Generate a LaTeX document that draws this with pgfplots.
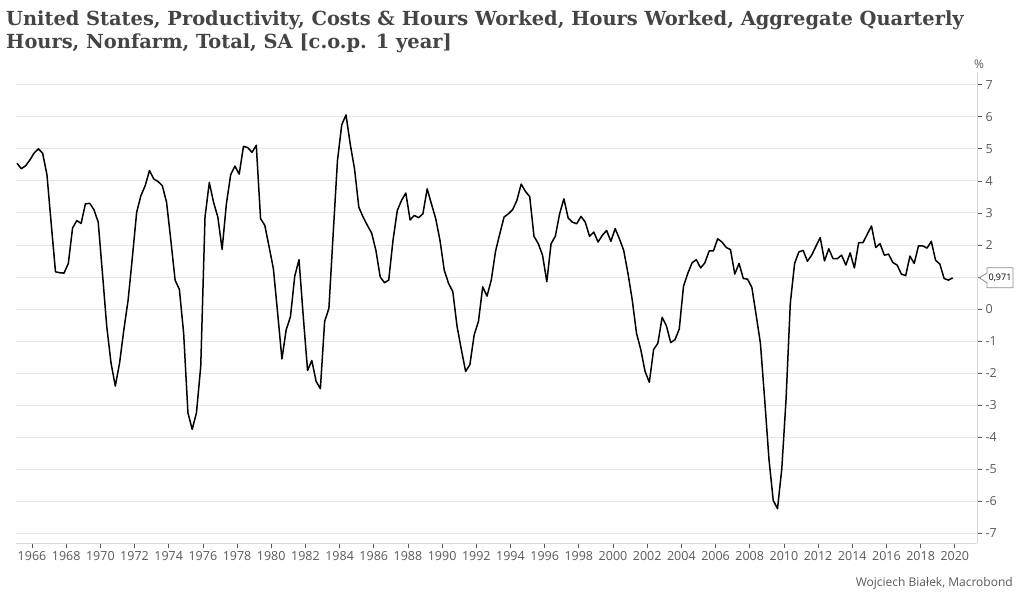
\documentclass[border=0pt]{standalone}
\usepackage{fontspec}
\usepackage{pgfplots}
\usepackage{pgfplotstable}
\pgfplotsset{compat=1.18}
\setmainfont{Open Sans}
\newfontfamily\titlefont{DejaVu Serif}
\definecolor{titlegray}{HTML}{444444}
\definecolor{tickgray}{HTML}{595959}
\definecolor{gridgray}{HTML}{E6E6E6}
\definecolor{axisgray}{HTML}{D9D9D9}

% aggregate hours, nonfarm, % change over 1 year, quarterly (mid-quarter dates)
\pgfplotstableread{
year value
1965.125 4.55
1965.375 4.38
1965.625 4.47
1965.875 4.65
1966.125 4.87
1966.375 5.00
1966.625 4.86
1966.875 4.19
1967.125 2.66
1967.375 1.16
1967.625 1.13
1967.875 1.12
1968.125 1.42
1968.375 2.53
1968.625 2.76
1968.875 2.67
1969.125 3.28
1969.375 3.30
1969.625 3.10
1969.875 2.71
1970.125 1.10
1970.375 -0.55
1970.625 -1.69
1970.875 -2.41
1971.125 -1.69
1971.375 -0.65
1971.625 0.28
1971.875 1.62
1972.125 3.02
1972.375 3.54
1972.625 3.85
1972.875 4.32
1973.125 4.06
1973.375 3.98
1973.625 3.85
1973.875 3.33
1974.125 2.14
1974.375 0.90
1974.625 0.61
1974.875 -0.76
1975.125 -3.24
1975.375 -3.76
1975.625 -3.24
1975.875 -1.79
1976.125 2.87
1976.375 3.95
1976.625 3.33
1976.875 2.87
1977.125 1.86
1977.375 3.28
1977.625 4.19
1977.875 4.46
1978.125 4.21
1978.375 5.08
1978.625 5.04
1978.875 4.89
1979.125 5.11
1979.375 2.82
1979.625 2.61
1979.875 1.94
1980.125 1.26
1980.375 -0.13
1980.625 -1.56
1980.875 -0.65
1981.125 -0.24
1981.375 1.02
1981.625 1.54
1981.875 -0.24
1982.125 -1.92
1982.375 -1.61
1982.625 -2.26
1982.875 -2.49
1983.125 -0.39
1983.375 0.02
1983.625 2.35
1983.875 4.63
1984.125 5.75
1984.375 6.06
1984.625 5.14
1984.875 4.37
1985.125 3.18
1985.375 2.87
1985.625 2.61
1985.875 2.37
1986.125 1.83
1986.375 1.00
1986.625 0.82
1986.875 0.90
1987.125 2.14
1987.375 3.07
1987.625 3.39
1987.875 3.62
1988.125 2.78
1988.375 2.92
1988.625 2.85
1988.875 2.97
1989.125 3.75
1989.375 3.28
1989.625 2.82
1989.875 2.14
1990.125 1.21
1990.375 0.80
1990.625 0.54
1990.875 -0.55
1991.125 -1.27
1991.375 -1.95
1991.625 -1.74
1991.875 -0.81
1992.125 -0.39
1992.375 0.69
1992.625 0.40
1992.875 0.90
1993.125 1.80
1993.375 2.35
1993.625 2.87
1993.875 2.97
1994.125 3.10
1994.375 3.39
1994.625 3.90
1994.875 3.67
1995.125 3.51
1995.375 2.27
1995.625 2.04
1995.875 1.68
1996.125 0.85
1996.375 2.04
1996.625 2.27
1996.875 2.97
1997.125 3.44
1997.375 2.84
1997.625 2.71
1997.875 2.66
1998.125 2.89
1998.375 2.71
1998.625 2.27
1998.875 2.40
1999.125 2.09
1999.375 2.30
1999.625 2.45
1999.875 2.11
2000.125 2.51
2000.375 2.19
2000.625 1.83
2000.875 1.11
2001.125 0.28
2001.375 -0.76
2001.625 -1.27
2001.875 -1.95
2002.125 -2.29
2002.375 -1.27
2002.625 -1.07
2002.875 -0.26
2003.125 -0.53
2003.375 -1.05
2003.625 -0.96
2003.875 -0.63
2004.125 0.71
2004.375 1.11
2004.625 1.44
2004.875 1.54
2005.125 1.28
2005.375 1.44
2005.625 1.81
2005.875 1.81
2006.125 2.19
2006.375 2.09
2006.625 1.92
2006.875 1.85
2007.125 1.09
2007.375 1.42
2007.625 0.95
2007.875 0.93
2008.125 0.67
2008.375 -0.19
2008.625 -1.07
2008.875 -2.83
2009.125 -4.69
2009.375 -5.98
2009.625 -6.24
2009.875 -5.00
2010.125 -2.83
2010.375 0.18
2010.625 1.42
2010.875 1.78
2011.125 1.83
2011.375 1.49
2011.625 1.68
2011.875 1.96
2012.125 2.23
2012.375 1.50
2012.625 1.88
2012.875 1.57
2013.125 1.57
2013.375 1.68
2013.625 1.37
2013.875 1.75
2014.125 1.28
2014.375 2.07
2014.625 2.07
2014.875 2.33
2015.125 2.59
2015.375 1.92
2015.625 2.04
2015.875 1.68
2016.125 1.71
2016.375 1.45
2016.625 1.37
2016.875 1.09
2017.125 1.04
2017.375 1.65
2017.625 1.42
2017.875 1.97
2018.125 1.97
2018.375 1.90
2018.625 2.11
2018.875 1.52
2019.125 1.40
2019.375 0.95
2019.625 0.90
2019.875 0.971
}\hours

\begin{document}
\begin{tikzpicture}[x=1bp,y=1bp]
\useasboundingbox (0,0) rectangle (1024,-600);

% title
\node[anchor=base west, inner sep=0, text=titlegray,
      font=\titlefont\bfseries\fontsize{19.4bp}{23bp}\selectfont]
  at (6,-26) {United States, Productivity, Costs \& Hours Worked, Hours Worked, Aggregate Quarterly};
\node[anchor=base west, inner sep=0, text=titlegray,
      font=\titlefont\bfseries\fontsize{19.4bp}{23bp}\selectfont]
  at (6,-49) {Hours, Nonfarm, Total, SA [c.o.p. 1 year]};

\begin{axis}[
    at={(16bp,-543bp)}, anchor=south west,
    scale only axis, width=961bp, height=471bp,
    xmin=1965.064, xmax=2021.3,
    ymin=-7.31, ymax=7.4,
    axis x line*=bottom, axis y line*=right,
    axis line style={axisgray, line width=0.8bp},
    xtick={1966,1968,...,2020},
    ytick={-7,-6,...,7},
    tick align=outside,
    major tick length=5bp,
    tick style={tickgray, line width=0.7bp},
    ymajorgrids,
    grid style={gridgray, line width=0.8bp},
    /pgf/number format/1000 sep={},
    /pgf/number format/assume math mode=true,
    ticklabel style={font=\fontsize{12.5bp}{15bp}\selectfont, text=tickgray},
]
\addplot[black, line width=1.5bp, line join=round] table[x=year, y=value] {\hours};
\coordinate (tip) at (axis cs:2021.3,0.971);
\end{axis}

% percent unit
\node[font=\fontsize{12bp}{14bp}\selectfont, text=tickgray] at (979,-64) {\%};

% last value callout
\draw[tickgray!70, fill=white, line width=0.8bp]
  ([xshift=2.5bp]tip) -- ++(7.5,5) -- ++(0,5) -- ++(26,0) -- ++(0,-20) -- ++(-26,0) -- ++(0,5) -- cycle;
\node[font=\fontsize{9bp}{10bp}\selectfont, text=black] at ([xshift=23bp]tip) {0,971};

% source
\node[anchor=base east, inner sep=0, font=\fontsize{12bp}{14bp}\selectfont, text=tickgray]
  at (1013,-586) {Wojciech Białek, Macrobond};
\end{tikzpicture}
\end{document}
